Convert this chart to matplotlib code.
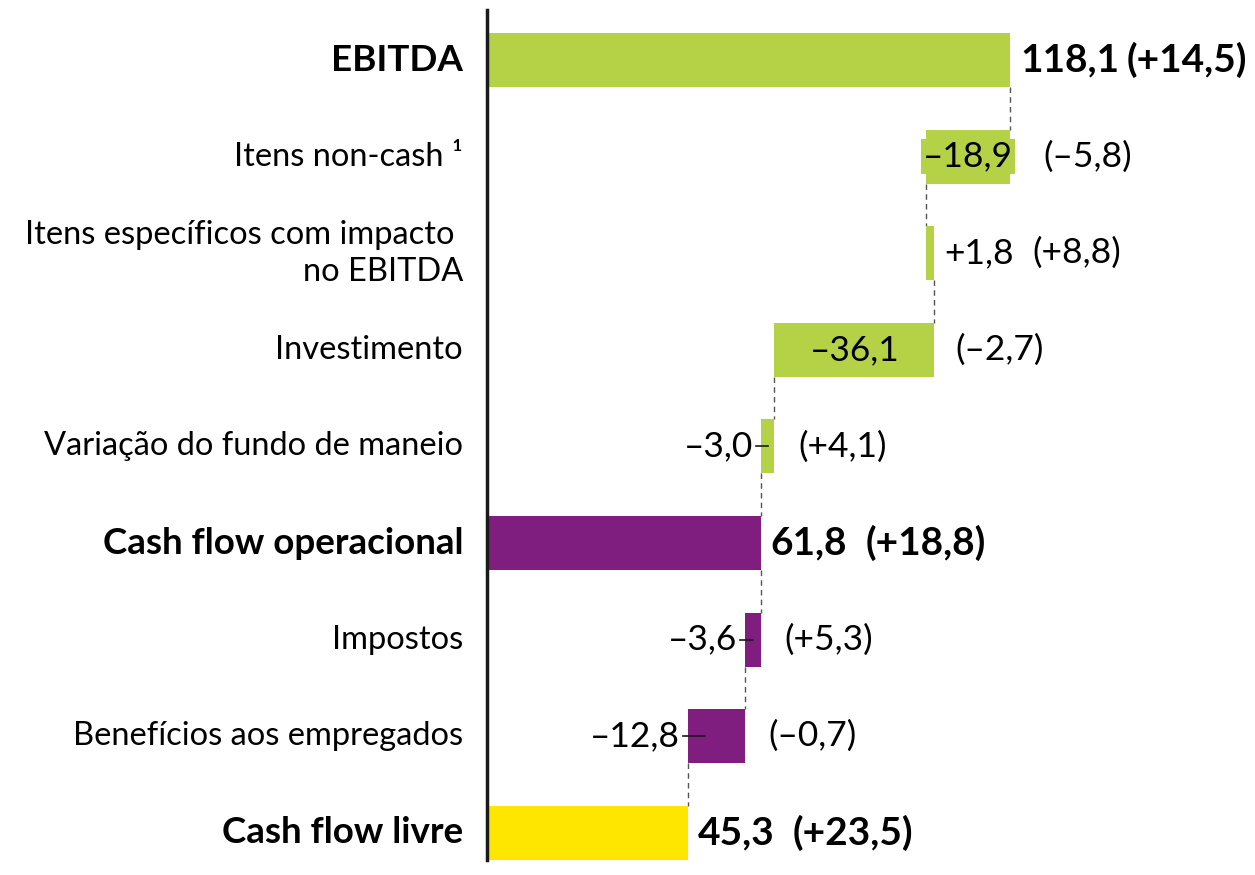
import matplotlib
matplotlib.use("Agg")
import matplotlib.pyplot as plt

plt.rcParams["font.family"] = ["Lato", "DejaVu Sans"]

# Cash flow bridge (M€), variation vs previous year in brackets
categories = ["EBITDA", "Itens non-cash ¹", "Itens específicos com impacto \nno EBITDA",
              "Investimento", "Variação do fundo de maneio", "Cash flow operacional",
              "Impostos", "Benefícios aos empregados", "Cash flow livre"]
values = [118.1, -18.9, 1.8, -36.1, -3.0, 61.8, -3.6, -12.8, 45.3]
changes = ["(+14,5)", "(–5,8)", "(+8,8)", "(–2,7)", "(+4,1)",
           "(+18,8)", "(+5,3)", "(–0,7)", "(+23,5)"]
is_total = [True, False, False, False, False, True, False, False, True]
label_pos = ["right", "inside_box", "right", "inside", "left",
             "right", "left", "left", "right"]

GREEN = "#b5d247"
PURPLE = "#801e80"
YELLOW = "#ffe600"
colors = [GREEN, GREEN, GREEN, GREEN, GREEN, PURPLE, PURPLE, PURPLE, YELLOW]

PX = 523 / 118.1          # pixels per unit
X0 = 487                  # pixel position of zero
ROW0, ROWSTEP = 60, 96.6

fig = plt.figure(figsize=(12.55, 8.75), dpi=100)
ax = fig.add_axes([0, 0, 1, 1])
ax.set_xlim(-X0 / PX, (1255 - X0) / PX)
ax.set_ylim((875 - ROW0) / ROWSTEP, -ROW0 / ROWSTEP)
ax.axis("off")

def fmt(v, sign=False):
    s = f"{abs(v):.1f}".replace(".", ",")
    if v < 0:
        return "–" + s
    return ("+" + s) if sign else s

# waterfall geometry
lefts, rights = [], []
running = 0.0
for v, tot in zip(values, is_total):
    if tot:
        lefts.append(0.0)
        rights.append(v)
        running = v
    else:
        new = running + v
        lefts.append(min(running, new))
        rights.append(max(running, new))
        running = new

h = 54 / ROWSTEP
ys = list(range(len(values)))
ax.barh(ys, [r - l for l, r in zip(lefts, rights)], left=lefts, height=h,
        color=colors, zorder=2)

# dashed connectors between consecutive bars
for i in range(len(values) - 1):
    if is_total[i + 1] or values[i + 1] < 0:
        x = rights[i + 1]
    else:
        x = lefts[i + 1]
    ax.plot([x, x], [i + h / 2, i + 1 - h / 2], color="#555555", lw=1,
            ls=(0, (4, 3)), zorder=1)

# axis line
ax.plot([0, 0], [-(ROW0 - 10) / ROWSTEP, (860 - ROW0) / ROWSTEP],
        color="#1a1a1a", lw=2.5, zorder=3)

FS = 23.5       # category labels
VS = 25.5       # value labels
renderer = fig.canvas.get_renderer()
inv = ax.transData.inverted()
for i, (cat, v, ch, tot, pos) in enumerate(zip(categories, values, changes,
                                               is_total, label_pos)):
    weight = "bold" if tot else "normal"
    vs = 28 if tot else VS
    ax.text(-24 / PX, i, cat, ha="right", va="center",
            fontsize=26.5 if tot else FS, fontweight=weight, linespacing=1.3)
    txt = fmt(v, sign=not tot)
    l, r = lefts[i], rights[i]
    if pos == "right":
        t = ax.text(r + 10 / PX, i, txt, ha="left", va="center", fontsize=vs,
                    fontweight=weight)
        end = inv.transform(t.get_window_extent(renderer))[1][0]
        ch_x = end + (8 if i == 0 else 18) / PX
    elif pos in ("inside", "inside_box"):
        box = None
        if pos == "inside_box":
            box = dict(boxstyle="square,pad=0.05", fc=colors[i], ec="none")
        ax.text((l + r) / 2, i, txt, ha="center", va="center", fontsize=vs,
                bbox=box, zorder=4)
        ch_x = r + (33 if box else 21) / PX
    else:
        tick_end = l + min((r - l) / 2, 17 / PX)
        ax.plot([l - 5 / PX, tick_end], [i, i], color="#1a1a1a", lw=1.2, zorder=4)
        ax.text(l - 8 / PX, i, txt, ha="right", va="center", fontsize=vs)
        ch_x = r + 24 / PX
    ax.text(ch_x, i, ch, ha="left", va="center", fontsize=vs, fontweight=weight)

fig.savefig("out.png", dpi=100)
